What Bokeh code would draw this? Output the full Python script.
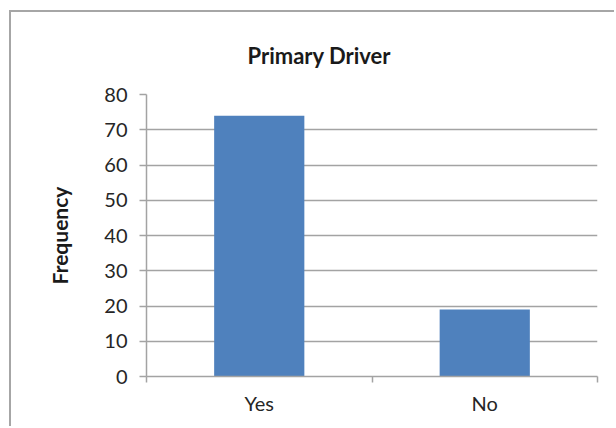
from bokeh.plotting import figure
from bokeh.models import Range1d, FixedTicker, ColumnDataSource
from bokeh.embed import file_html
from bokeh.resources import INLINE

# Survey answers and their counts
categories = ["Yes", "No"]
frequency = [74, 19]
y_ticks = [0, 10, 20, 30, 40, 50, 60, 70, 80]

FONT = "Lato"
GRID = "#a3a3a3"
TEXT = "#262626"

centers = [i + 0.5 for i in range(len(categories))]
source = ColumnDataSource(data=dict(x=centers, count=frequency, label=categories))

p = figure(
    width=605, height=416,
    x_range=Range1d(0, len(categories)),
    y_range=Range1d(0, 80),
    output_backend="svg", toolbar_location=None,
    title="Primary Driver",
    min_border_left=135, min_border_right=19,
    min_border_top=82, min_border_bottom=52,
)
p.margin = (10, 0, 0, 9)
p.styles = {"border-top": "2px solid #a6a6a6", "border-left": "2px solid #a6a6a6"}

p.vbar(x="x", top="count", width=0.4, source=source,
       fill_color="#4f81bd", line_color=None)

# Title sits over the middle of the whole chart box, left of the frame centre
p.title.text_font = FONT
p.title.text_font_size = "22px"
p.title.text_font_style = "bold"
p.title.text_color = "#1a1a1a"
p.title.text_line_height = 1.0
p.title.align = "left"
p.title.offset = 101
p.title.standoff = 52

p.outline_line_color = None
p.background_fill_color = "white"
p.border_fill_color = "white"

# Horizontal gridlines only
p.xgrid.grid_line_color = None
p.ygrid.grid_line_color = GRID
p.ygrid.grid_line_width = 1.5

# Value axis
p.yaxis.ticker = FixedTicker(ticks=y_ticks, minor_ticks=[])
p.yaxis.axis_label = "Frequency"
p.yaxis.axis_label_text_font = FONT
p.yaxis.axis_label_text_font_size = "21px"
p.yaxis.axis_label_text_font_style = "bold"
p.yaxis.axis_label_text_color = "#1a1a1a"
p.yaxis.axis_label_standoff = 29
p.yaxis.major_label_text_font = FONT
p.yaxis.major_label_text_font_size = "20px"
p.yaxis.major_label_text_color = TEXT
p.yaxis.major_label_standoff = 12
p.yaxis.axis_line_color = GRID
p.yaxis.axis_line_width = 1.5
p.yaxis.major_tick_line_color = GRID
p.yaxis.major_tick_line_width = 1.5
p.yaxis.major_tick_in = 0
p.yaxis.major_tick_out = 7

# Category axis: labels at the bar centres, tick marks at the category boundaries
p.xaxis.ticker = FixedTicker(ticks=centers, minor_ticks=list(range(len(categories) + 1)))
p.xaxis.major_label_overrides = {c: lab for c, lab in zip(centers, categories)}
p.xaxis.major_label_text_font = FONT
p.xaxis.major_label_text_font_size = "20px"
p.xaxis.major_label_text_color = TEXT
p.xaxis.major_label_standoff = 8
p.xaxis.axis_line_color = GRID
p.xaxis.axis_line_width = 1.5
p.xaxis.major_tick_line_color = None
p.xaxis.major_tick_out = 6
p.xaxis.major_tick_in = 0
p.xaxis.minor_tick_line_color = GRID
p.xaxis.minor_tick_line_width = 1.5
p.xaxis.minor_tick_in = 0
p.xaxis.minor_tick_out = 6

open("out.html", "w").write(file_html(p, INLINE))
